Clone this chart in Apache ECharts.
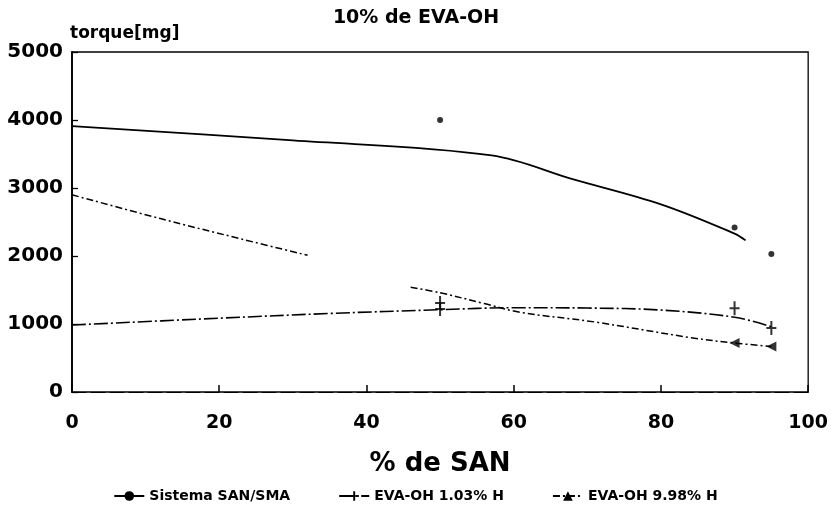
<!DOCTYPE html>
<html>
<head>
<meta charset="utf-8">
<title>10% de EVA-OH</title>
<script src="https://cdn.jsdelivr.net/npm/echarts@6/dist/echarts.min.js"></script>
<style>
  html, body { margin: 0; padding: 0; background: #fff; }
  #chart { width: 831px; height: 521px; }
</style>
</head>
<body>
<div id="chart"></div>
<script>
// Torque vs. SAN content, 10% EVA-OH blends
const titleText = '10% de EVA-OH';
const yAxisName = 'torque[mg]';
const xAxisName = '% de SAN';
const xTicks = [0, 20, 40, 60, 80, 100];
const yTicks = [0, 1000, 2000, 3000, 4000, 5000];

const seriesNames = ['Sistema SAN/SMA', 'EVA-OH 1.03% H', 'EVA-OH 9.98% H'];

// Sistema SAN/SMA: fitted curve and measured points
const sanSmaCurveX = [0, 30, 57, 68, 80, 90, 91.5];
const sanSmaCurveY = [3910, 3700, 3480, 3130, 2760, 2330, 2230];
const sanSmaPtsX = [50, 90, 95];
const sanSmaPtsY = [4000, 2420, 2030];

// EVA-OH 1.03% H
const eva103CurveX = [0, 20, 35, 50, 60, 70, 80, 90, 95];
const eva103CurveY = [985, 1085, 1155, 1210, 1240, 1235, 1205, 1100, 960];
const eva103PtsX = [50, 50, 90, 95];
const eva103PtsY = [1310, 1220, 1230, 940];

// EVA-OH 9.98% H ('-' leaves the break in the curve)
const eva998CurveX = [0, 12, 23, 32, 39, 46, 50, 56, 61, 71, 84, 90, 95];
const eva998CurveY = [2900, 2550, 2250, 2010, '-', 1540, 1460, 1300, 1170, 1030, 800, 720, 670];
const eva998PtsX = [90, 95];
const eva998PtsY = [720, 670];

const zip = (xs, ys) => xs.map((x, i) => [x, ys[i]]);

const FONT = 'DejaVu Sans';
const plusPath = 'path://M4,0h2v6h4v2h-4v6h-2v-6h-4v-2h4z';

const chart = echarts.init(document.getElementById('chart'), null, { renderer: 'canvas' });

const lineBase = {
  type: 'line',
  smooth: 0.35,
  showSymbol: false,
  silent: true,
  z: 2
};

chart.setOption({
  backgroundColor: '#ffffff',
  animation: false,
  title: {
    text: titleText,
    left: 411,
    top: 4,
    textAlign: 'center',
    textStyle: { fontFamily: FONT, fontWeight: 'bold', fontSize: 19, color: '#000' }
  },
  grid: {
    left: 72, right: 20, top: 52, bottom: 129,
    show: true,
    borderColor: '#000',
    borderWidth: 1.3,
    backgroundColor: 'transparent'
  },
  legend: {
    bottom: 13,
    left: 'center',
    itemWidth: 30,
    itemHeight: 12,
    itemGap: 48,
    textStyle: { fontFamily: FONT, fontWeight: 'bold', fontSize: 14, color: '#000' },
    data: seriesNames
  },
  xAxis: {
    type: 'value',
    min: 0, max: 100, interval: 20,
    name: xAxisName,
    nameLocation: 'middle',
    nameGap: 59,
    nameTextStyle: { fontFamily: FONT, fontWeight: 'bold', fontSize: 26, color: '#000' },
    axisLine: { show: true, lineStyle: { color: '#000', width: 1.2, type: [14, 5] } },
    axisTick: { show: true, inside: true, length: 7, lineStyle: { color: '#000', width: 1.5 } },
    axisLabel: {
      margin: 22,
      fontFamily: FONT, fontWeight: 'bold', fontSize: 19, color: '#000',
      formatter: v => xTicks.includes(v) ? String(v) : ''
    },
    splitLine: { show: false }
  },
  yAxis: {
    type: 'value',
    min: 0, max: 5000, interval: 1000,
    name: yAxisName,
    nameLocation: 'end',
    nameGap: 10,
    nameTextStyle: {
      fontFamily: FONT, fontWeight: 'bold', fontSize: 17, color: '#000',
      align: 'left', verticalAlign: 'bottom', padding: [0, 0, 0, -2]
    },
    axisLine: { show: true, lineStyle: { color: '#000', width: 1.8 } },
    axisTick: { show: true, inside: true, length: 6, lineStyle: { color: '#000', width: 1.3 } },
    axisLabel: {
      margin: 9,
      fontFamily: FONT, fontWeight: 'bold', fontSize: 20, color: '#000',
      formatter: v => yTicks.includes(v) ? String(v) : ''
    },
    splitLine: { show: false }
  },
  series: [
    Object.assign({}, lineBase, {
      name: seriesNames[0],
      data: zip(sanSmaCurveX, sanSmaCurveY),
      symbol: 'circle', symbolSize: 6,
      itemStyle: { color: '#000' },
      lineStyle: { color: '#000', width: 1.8, type: 'solid' }
    }),
    Object.assign({}, lineBase, {
      name: seriesNames[1],
      data: zip(eva103CurveX, eva103CurveY),
      symbol: plusPath, symbolSize: [9, 13],
      itemStyle: { color: '#000' },
      lineStyle: { color: '#000', width: 1.6, type: [14, 3, 2, 3] }
    }),
    Object.assign({}, lineBase, {
      name: seriesNames[2],
      data: zip(eva998CurveX, eva998CurveY),
      connectNulls: false,
      symbol: 'triangle', symbolSize: 8,
      itemStyle: { color: '#000' },
      lineStyle: { color: '#000', width: 1.5, type: [7, 3, 2, 3] }
    }),
    {
      name: seriesNames[0], type: 'scatter', z: 3,
      data: zip(sanSmaPtsX, sanSmaPtsY),
      symbol: 'circle', symbolSize: 6,
      itemStyle: { color: '#000' }
    },
    {
      name: seriesNames[1], type: 'scatter', z: 3,
      data: zip(eva103PtsX, eva103PtsY),
      symbol: plusPath, symbolSize: [10, 14],
      itemStyle: { color: '#000' }
    },
    {
      name: seriesNames[2], type: 'scatter', z: 3,
      data: zip(eva998PtsX, eva998PtsY),
      symbol: 'triangle', symbolSize: 10, symbolRotate: 90,
      itemStyle: { color: '#000' }
    }
  ]
});
</script>
</body>
</html>
